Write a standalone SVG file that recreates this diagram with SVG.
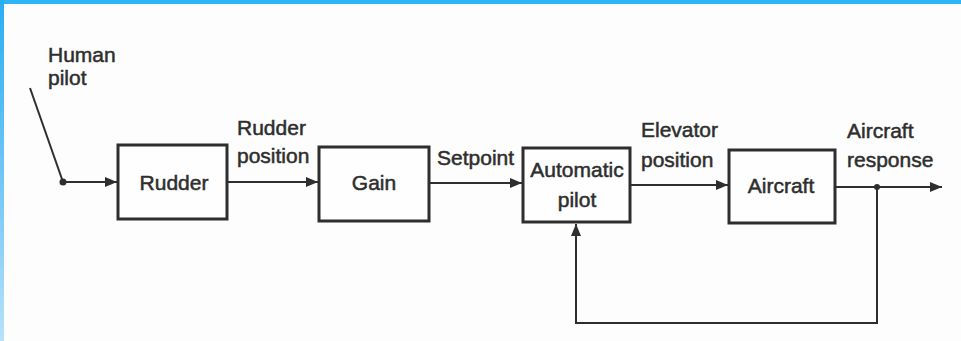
<svg xmlns="http://www.w3.org/2000/svg" width="961" height="341" viewBox="0 0 961 341">
<defs>
<linearGradient id="lb" x1="0" y1="0" x2="0" y2="1">
<stop offset="0" stop-color="#2aaef2"/>
<stop offset="0.6" stop-color="#7ccaf6"/>
<stop offset="1" stop-color="#b8e2fa"/>
</linearGradient>
<marker id="ah" viewBox="0 0 12 10" refX="12" refY="5" markerWidth="12" markerHeight="10" markerUnits="userSpaceOnUse" orient="auto">
<path d="M0,0 L12,5 L0,10 Z" fill="#2e2e2e"/>
</marker>
<style>
.box{fill:#fdfefd;stroke:#2e2e2e;stroke-width:3}
.ln{fill:none;stroke:#2e2e2e;stroke-width:2}
text{font-family:"Liberation Sans",Arial,sans-serif;font-size:21px;fill:#2e2e2e;stroke:#2e2e2e;stroke-width:0.5}
.c{text-anchor:middle}
</style>
</defs>
<rect x="0" y="0" width="961" height="341" fill="#fcfdfc"/>
<rect x="0" y="0" width="961" height="4" fill="#2db5f5"/>
<rect x="0" y="0" width="4" height="341" fill="url(#lb)"/>

<g id="connectors">
<line class="ln" x1="30" y1="88" x2="63" y2="182"/>
<circle cx="63" cy="182" r="3.5" fill="#2e2e2e"/>
<line class="ln" x1="63" y1="182" x2="117" y2="182" marker-end="url(#ah)"/>
<line class="ln" x1="228" y1="182" x2="318" y2="182" marker-end="url(#ah)"/>
<line class="ln" x1="430" y1="183" x2="522" y2="183" marker-end="url(#ah)"/>
<line class="ln" x1="631" y1="185" x2="728" y2="185" marker-end="url(#ah)"/>
<line class="ln" x1="836" y1="187" x2="942" y2="187" marker-end="url(#ah)"/>
<circle cx="877" cy="187" r="3" fill="#2e2e2e"/>
<polyline class="ln" points="877,187 877,323 576,323 576,224" marker-end="url(#ah)"/>
</g>

<g id="human-pilot">
<text x="48" y="62">Human</text>
<text x="48" y="85">pilot</text>
</g>
<g id="rudder">
<rect class="box" x="118" y="145" width="109" height="74"/>
<text class="c" x="174" y="190">Rudder</text>
</g>
<g id="rudder-position-label">
<text x="237" y="135">Rudder</text>
<text x="237" y="163">position</text>
</g>
<g id="gain">
<rect class="box" x="319" y="147" width="110" height="74"/>
<text class="c" x="374" y="190">Gain</text>
</g>
<g id="setpoint-label">
<text x="437" y="165">Setpoint</text>
</g>
<g id="automatic-pilot">
<rect class="box" x="523" y="148" width="107" height="74"/>
<text class="c" x="577" y="177">Automatic</text>
<text class="c" x="577" y="207">pilot</text>
</g>
<g id="elevator-position-label">
<text x="641" y="137">Elevator</text>
<text x="641" y="167">position</text>
</g>
<g id="aircraft">
<rect class="box" x="729" y="150" width="106" height="73"/>
<text class="c" x="781" y="193">Aircraft</text>
</g>
<g id="aircraft-response-label">
<text x="847" y="138">Aircraft</text>
<text x="847" y="167">response</text>
</g>
</svg>
